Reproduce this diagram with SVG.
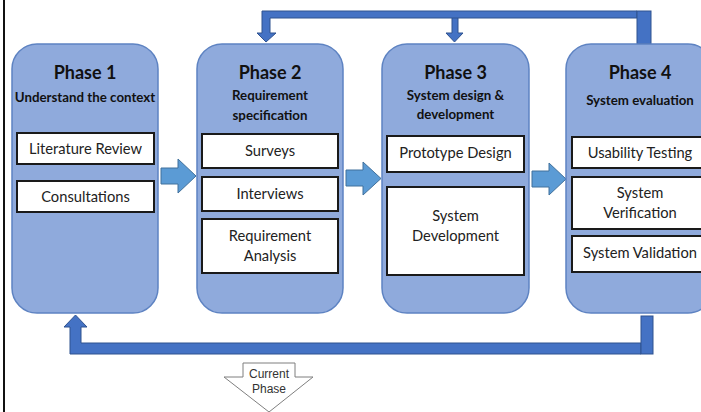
<svg xmlns="http://www.w3.org/2000/svg" width="701" height="412" viewBox="0 0 701 412">
  <style>
    .phase { fill: #8FAADC; stroke: #5E83C2; stroke-width: 1.5; }
    .item { fill: #FFFFFF; stroke: #1A1A1A; stroke-width: 2; }
    .flow { fill: #5B9BD5; stroke: #41719C; stroke-width: 1; }
    .loop { fill: #4472C4; stroke: #2F528F; stroke-width: 1; }
    .title { font-family: Lato, "Open Sans", sans-serif; font-weight: 700; font-size: 18px; fill: #111111; text-anchor: middle; }
    .sub { font-family: Lato, "Open Sans", sans-serif; font-weight: 700; font-size: 13.3px; fill: #111111; text-anchor: middle; }
    .txt { font-family: Lato, "Open Sans", sans-serif; font-size: 14.7px; fill: #222222; text-anchor: middle; }
    .note { font-family: "Liberation Sans", Arial, sans-serif; font-size: 12px; fill: #333333; text-anchor: middle; }
  </style>

  <rect width="701" height="412" fill="#FFFFFF"/>
  <!-- page border on the left -->
  <line x1="4" y1="0" x2="4" y2="412" stroke="#111111" stroke-width="2"/>

  <g id="connectors">
    <!-- forward arrows between phases -->
    <path class="flow" d="M161 168 H178 V159 L196 176 L178 193 V184 H161 Z"/>
    <path class="flow" d="M346 170 H363 V162 L381 178.5 L363 195 V186 H346 Z"/>
    <path class="flow" d="M532 171 H549 V163 L566 179 L549 195 V187 H532 Z"/>

    <!-- feedback loop along the top -->
    <path class="loop" d="M452 14 V33 H446 L454.5 42 L463 33 H458 V14 Z"/>
    <path class="loop" d="M637 11 H262 V33 H257 L266 42 L276 33 H270 V18 H637 Z"/>
    <rect class="loop" x="637" y="11" width="14" height="33"/>

    <!-- feedback loop along the bottom -->
    <path class="loop" d="M70 354 V327 H64 L75.5 315 L87 327 H81 V343 H641 V354 Z"/>
    <rect class="loop" x="641" y="316" width="12" height="38"/>
  </g>

  <g id="phase1">
    <rect class="phase" x="12" y="44" width="146" height="269" rx="25" ry="25"/>
    <text class="title" x="85" y="79">Phase 1</text>
    <text class="sub" x="85" y="102">Understand the context</text>
    <rect class="item" x="17" y="133" width="137" height="31"/>
    <text class="txt" x="85.5" y="154">Literature Review</text>
    <rect class="item" x="17" y="181" width="137" height="31"/>
    <text class="txt" x="85.5" y="202">Consultations</text>
  </g>

  <g id="phase2">
    <rect class="phase" x="197" y="44" width="146" height="269" rx="25" ry="25"/>
    <text class="title" x="270" y="79">Phase 2</text>
    <text class="sub" x="270" y="100">Requirement</text>
    <text class="sub" x="270" y="120">specification</text>
    <rect class="item" x="202" y="134" width="136" height="34"/>
    <text class="txt" x="270" y="156">Surveys</text>
    <rect class="item" x="202" y="177" width="136" height="34"/>
    <text class="txt" x="270" y="199">Interviews</text>
    <rect class="item" x="202" y="219" width="136" height="54"/>
    <text class="txt" x="270" y="241">Requirement</text>
    <text class="txt" x="270" y="261">Analysis</text>
  </g>

  <g id="phase3">
    <rect class="phase" x="382" y="44" width="147" height="269" rx="25" ry="25"/>
    <text class="title" x="455.5" y="79">Phase 3</text>
    <text class="sub" x="455.5" y="100">System design &amp;</text>
    <text class="sub" x="455.5" y="119">development</text>
    <rect class="item" x="387" y="136" width="137" height="36"/>
    <text class="txt" x="455.5" y="158">Prototype Design</text>
    <rect class="item" x="387" y="187" width="137" height="88"/>
    <text class="txt" x="455.5" y="221">System</text>
    <text class="txt" x="455.5" y="241">Development</text>
  </g>

  <g id="phase4">
    <rect class="phase" x="566" y="44" width="147" height="269" rx="25" ry="25"/>
    <text class="title" x="640" y="79">Phase 4</text>
    <text class="sub" x="640" y="105">System evaluation</text>
    <rect class="item" x="572" y="137" width="136" height="31"/>
    <text class="txt" x="640" y="158">Usability Testing</text>
    <rect class="item" x="572" y="177" width="136" height="52"/>
    <text class="txt" x="640" y="198">System</text>
    <text class="txt" x="640" y="218">Verification</text>
    <rect class="item" x="572" y="236" width="136" height="36"/>
    <text class="txt" x="640" y="258">System Validation</text>
  </g>

  <g id="current-phase">
    <path d="M243 363 H295 V377 H313 L269 412 L224 377 H243 Z" fill="#FFFFFF" stroke="#7F7F7F" stroke-width="1"/>
    <text class="note" x="269" y="378">Current</text>
    <text class="note" x="269" y="393">Phase</text>
  </g>
</svg>
